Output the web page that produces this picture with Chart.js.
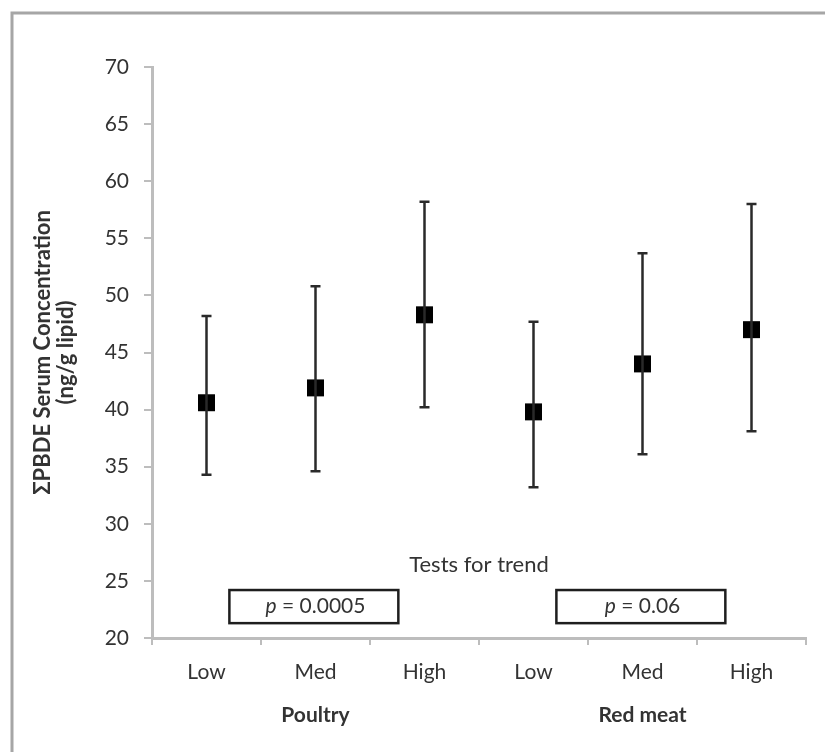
<!DOCTYPE html>
<html>
<head>
<meta charset="utf-8">
<script src="https://cdn.jsdelivr.net/npm/chart.js@4"></script>
<style>
  html, body { margin: 0; padding: 0; background: #fff; }
  #wrap { position: relative; width: 825px; height: 752px; }
</style>
</head>
<body>
<div id="wrap"><canvas id="chart" width="825" height="752"></canvas></div>
<script>
// values
const categories = ["Low", "Med", "High", "Low", "Med", "High"];
const groups = ["Poultry", "Red meat"];
const means = [40.6, 41.9, 48.3, 39.8, 44.0, 47.0];
const lower = [34.3, 34.6, 40.2, 33.2, 36.1, 38.1];
const upper = [48.2, 50.8, 58.2, 47.7, 53.7, 58.0];
const pValues = ["0.0005", "0.06"];
const yTicks = [20, 25, 30, 35, 40, 45, 50, 55, 60, 65, 70];

const FONT = "Lato, 'Open Sans', sans-serif";
const TEXT = "#333";
const AXIS = "#bdbdbd";

const extras = {
  id: "extras",
  afterDatasetsDraw(chart) {
    const ctx = chart.ctx;
    const x = chart.scales.x;
    const y = chart.scales.y;
    ctx.save();

    // error bars
    ctx.strokeStyle = "#2a2a2a";
    ctx.lineWidth = 2.5;
    means.forEach((m, i) => {
      const px = x.getPixelForValue(i);
      const top = y.getPixelForValue(upper[i]);
      const bot = y.getPixelForValue(lower[i]);
      ctx.beginPath();
      ctx.moveTo(px, top); ctx.lineTo(px, bot);
      ctx.moveTo(px - 5, top); ctx.lineTo(px + 5, top);
      ctx.moveTo(px - 5, bot); ctx.lineTo(px + 5, bot);
      ctx.stroke();
    });
    ctx.restore();
  },
  afterDraw(chart) {
    const ctx = chart.ctx;
    const x = chart.scales.x;
    const y = chart.scales.y;
    ctx.save();

    // outer frame
    ctx.strokeStyle = "#a6a6a6";
    ctx.lineWidth = 3;
    ctx.beginPath();
    ctx.moveTo(12, 760); ctx.lineTo(12, 13); ctx.lineTo(830, 13);
    ctx.stroke();

    ctx.fillStyle = TEXT;
    ctx.textAlign = "center";
    ctx.textBaseline = "middle";

    // y axis title
    ctx.save();
    ctx.translate(43, y.getPixelForValue(45));
    ctx.rotate(-Math.PI / 2);
    ctx.font = "bold 22px " + FONT;
    ctx.fillText("\u03A3PBDE Serum Concentration", 0, 0);
    ctx.fillText("(ng/g lipid)", 0, 23);
    ctx.restore();

    // trend test label
    ctx.font = "22px " + FONT;
    ctx.fillText("Tests for trend", x.getPixelForValue(2.5), y.getPixelForValue(26.4));

    // p-value boxes
    const boxTop = y.getPixelForValue(24.2);
    const boxBot = y.getPixelForValue(21.3);
    pValues.forEach((p, g) => {
      const left = x.getPixelForValue(g * 3 + 0.21);
      const right = x.getPixelForValue(g * 3 + 1.76);
      ctx.strokeStyle = "#1e1e1e";
      ctx.lineWidth = 2.5;
      ctx.strokeRect(left, boxTop, right - left, boxBot - boxTop);
      const cx = x.getPixelForValue(g * 3 + 1);
      const cy = (boxTop + boxBot) / 2;
      ctx.font = "italic 21px " + FONT;
      const pw = ctx.measureText("p").width;
      ctx.font = "21px " + FONT;
      const rest = " = " + p;
      const rw = ctx.measureText(rest).width;
      const start = cx - (pw + rw) / 2;
      ctx.textAlign = "left";
      ctx.font = "italic 21px " + FONT;
      ctx.fillText("p", start, cy);
      ctx.font = "21px " + FONT;
      ctx.fillText(rest, start + pw, cy);
      ctx.textAlign = "center";
    });

    // group labels
    ctx.font = "bold 21px " + FONT;
    groups.forEach((g, i) => {
      ctx.fillText(g, x.getPixelForValue(i * 3 + 1), 715);
    });
    ctx.restore();
  }
};

new Chart(document.getElementById("chart"), {
  type: "line",
  data: {
    labels: categories,
    datasets: [{
      data: means,
      showLine: false,
      pointStyle: "rect",
      pointRadius: 12,
      pointHoverRadius: 12,
      pointBackgroundColor: "#000",
      pointBorderColor: "#000",
      pointBorderWidth: 0
    }]
  },
  options: {
    responsive: false,
    animation: false,
    events: [],
    layout: { padding: { top: 67, right: 19, left: 0, bottom: 0 } },
    plugins: { legend: { display: false }, tooltip: { enabled: false } },
    scales: {
      x: {
        offset: true,
        grid: {
          offset: true,
          drawOnChartArea: false,
          color: AXIS,
          lineWidth: 2,
          tickLength: 7
        },
        border: { color: AXIS, width: 3 },
        ticks: { color: TEXT, font: { family: FONT, size: 21 }, padding: 15, maxRotation: 0 },
        afterFit(scale) { scale.height = 114; }
      },
      y: {
        min: 20,
        max: 70,
        afterBuildTicks(scale) { scale.ticks = yTicks.map(v => ({ value: v })); },
        grid: {
          drawOnChartArea: false,
          color: AXIS,
          lineWidth: 2,
          tickLength: 8
        },
        border: { color: AXIS, width: 3 },
        ticks: { color: TEXT, font: { family: FONT, size: 21 }, padding: 15 },
        afterFit(scale) { scale.width = 152; }
      }
    }
  },
  plugins: [extras]
});
</script>
</body>
</html>
